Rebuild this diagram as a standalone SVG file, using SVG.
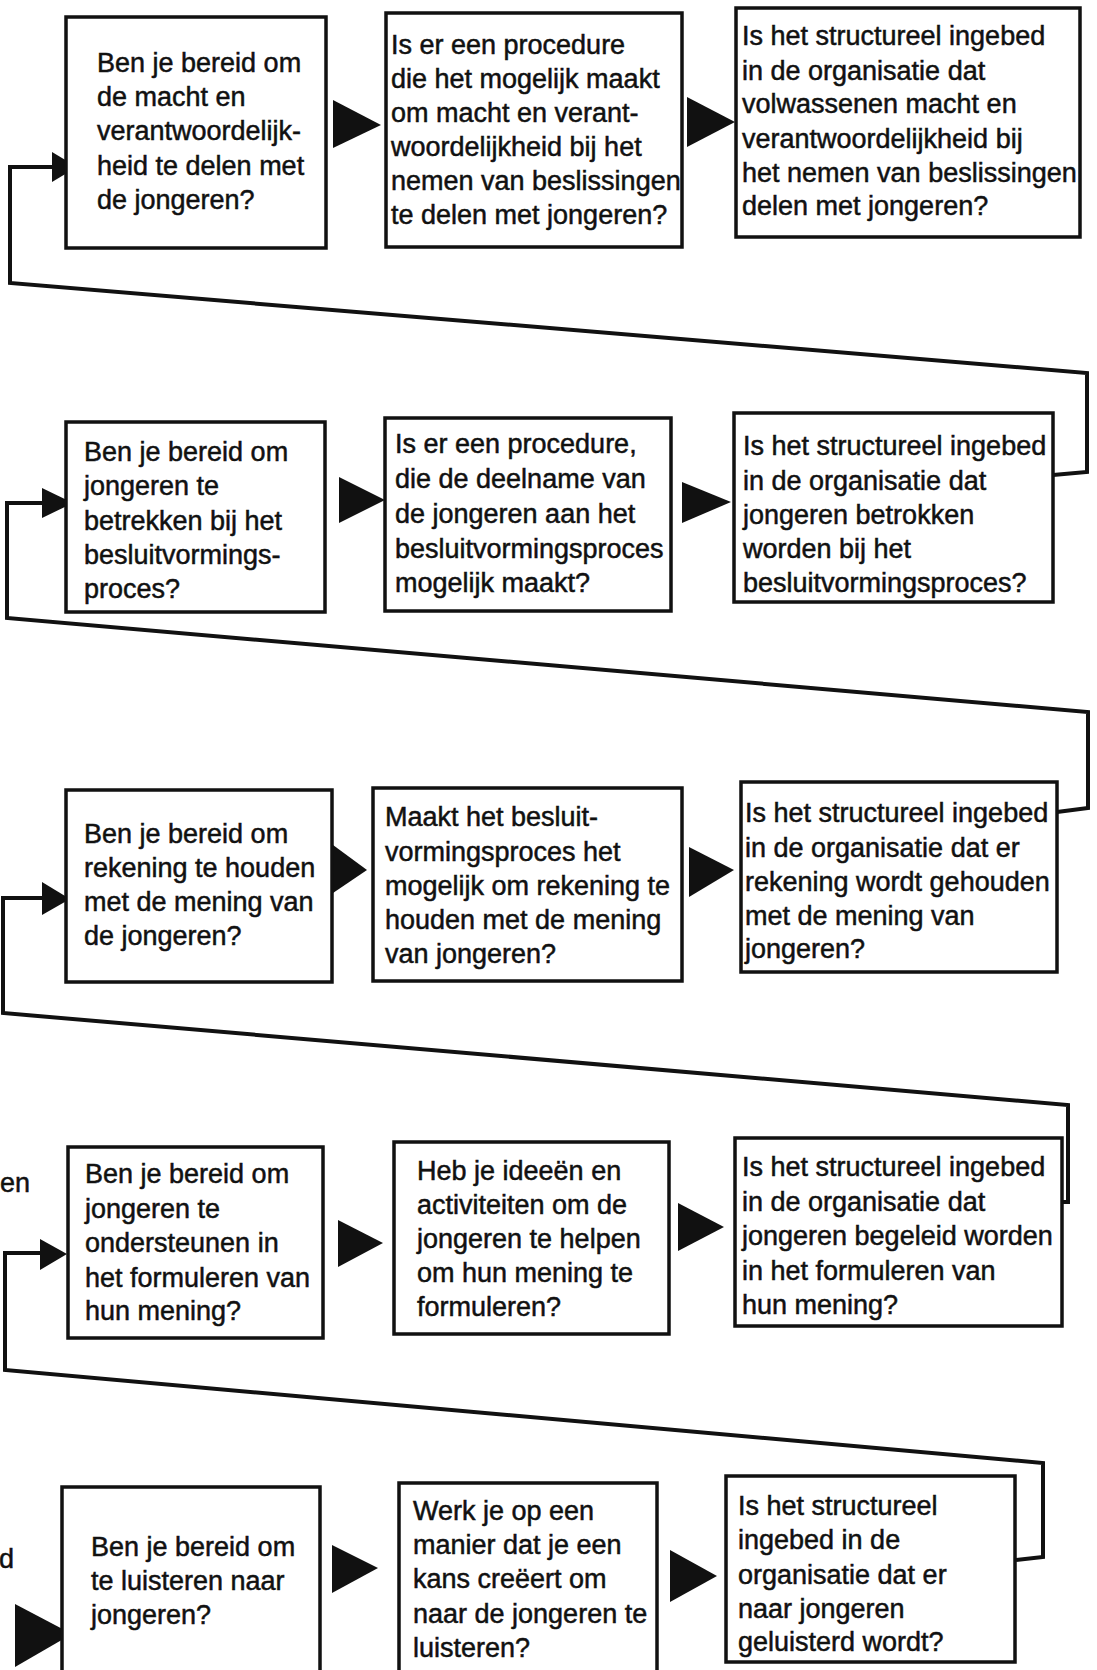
<svg xmlns="http://www.w3.org/2000/svg" width="1097" height="1670" viewBox="0 0 1097 1670">
<style>
.box{fill:#fff;stroke:#111;stroke-width:3.5}
.t{font-family:"Liberation Sans",Arial,sans-serif;font-size:27px;fill:#111;stroke:#111;stroke-width:0.5}
.head{fill:#111;stroke:none}
.conn{fill:none;stroke:#111;stroke-width:4;stroke-linejoin:miter}
</style>
<rect width="1097" height="1670" fill="#fff"/>
<g id="connectors">
<path class="conn" d="M1053,475 L1087,472 L1087,373 L10,283 L10,167 L58,167"/>
<polygon class="head" points="52,152 77,167 52,182"/>
<path class="conn" d="M1057,812 L1088,808 L1088,712 L7,618 L7,503 L46,503"/>
<polygon class="head" points="42,488 73,503 42,518"/>
<path class="conn" d="M1062,1202 L1068,1202 L1068,1105 L3,1013 L3,898 L46,898"/>
<polygon class="head" points="42,882 70,899 42,915"/>
<path class="conn" d="M1016,1560 L1043,1557 L1043,1463 L5,1370 L5,1253 L44,1253"/>
<polygon class="head" points="40,1239 67,1254 40,1270"/>
<polygon class="head" points="15,1604 72,1634 15,1667"/>
<polygon class="head" points="333,100 381,125 333,148"/>
<polygon class="head" points="687,97 735,122 687,147"/>
<polygon class="head" points="339,477 385,500 339,523"/>
<polygon class="head" points="682,482 731,502 682,523"/>
<polygon class="head" points="333,845 367,870 333,893"/>
<polygon class="head" points="689,847 734,870 689,897"/>
<polygon class="head" points="338,1220 383,1243 338,1267"/>
<polygon class="head" points="678,1203 724,1227 678,1251"/>
<polygon class="head" points="332,1545 378,1568 332,1593"/>
<polygon class="head" points="670,1550 717,1576 670,1602"/>
</g>
<g id="side-labels">
<text class="t" x="0" y="1192" font-size="29">en</text>
<text class="t" x="-1" y="1568" font-size="29">d</text>
</g>
<g id="A1"><rect class="box" x="66" y="17" width="260" height="231"/>
<text class="t"><tspan x="97" y="72">Ben je bereid om</tspan><tspan x="97" y="106">de macht en</tspan><tspan x="97" y="140">verantwoordelijk-</tspan><tspan x="97" y="175">heid te delen met</tspan><tspan x="97" y="209">de jongeren?</tspan></text></g>
<g id="A2"><rect class="box" x="386" y="13" width="296" height="234"/>
<text class="t"><tspan x="391" y="54">Is er een procedure</tspan><tspan x="391" y="88">die het mogelijk maakt</tspan><tspan x="391" y="122">om macht en verant-</tspan><tspan x="391" y="156">woordelijkheid bij het</tspan><tspan x="391" y="190">nemen van beslissingen</tspan><tspan x="391" y="224">te delen met jongeren?</tspan></text></g>
<g id="A3"><rect class="box" x="736" y="8" width="344" height="229"/>
<text class="t"><tspan x="742" y="45">Is het structureel ingebed</tspan><tspan x="742" y="80">in de organisatie dat</tspan><tspan x="742" y="113">volwassenen macht en</tspan><tspan x="742" y="148">verantwoordelijkheid bij</tspan><tspan x="742" y="182">het nemen van beslissingen</tspan><tspan x="742" y="215">delen met jongeren?</tspan></text></g>
<g id="B1"><rect class="box" x="66" y="422" width="259" height="190"/>
<text class="t"><tspan x="84" y="461">Ben je bereid om</tspan><tspan x="84" y="495">jongeren te</tspan><tspan x="84" y="530">betrekken bij het</tspan><tspan x="84" y="564">besluitvormings-</tspan><tspan x="84" y="598">proces?</tspan></text></g>
<g id="B2"><rect class="box" x="385" y="418" width="286" height="193"/>
<text class="t"><tspan x="395" y="453">Is er een procedure,</tspan><tspan x="395" y="488">die de deelname van</tspan><tspan x="395" y="523">de jongeren aan het</tspan><tspan x="395" y="558">besluitvormingsproces</tspan><tspan x="395" y="592">mogelijk maakt?</tspan></text></g>
<g id="B3"><rect class="box" x="734" y="413" width="319" height="189"/>
<text class="t"><tspan x="743" y="455">Is het structureel ingebed</tspan><tspan x="743" y="490">in de organisatie dat</tspan><tspan x="743" y="524">jongeren betrokken</tspan><tspan x="743" y="558">worden bij het</tspan><tspan x="743" y="592">besluitvormingsproces?</tspan></text></g>
<g id="C1"><rect class="box" x="66" y="790" width="266" height="192"/>
<text class="t"><tspan x="84" y="843">Ben je bereid om</tspan><tspan x="84" y="877">rekening te houden</tspan><tspan x="84" y="911">met de mening van</tspan><tspan x="84" y="945">de jongeren?</tspan></text></g>
<g id="C2"><rect class="box" x="373" y="788" width="309" height="193"/>
<text class="t"><tspan x="385" y="826">Maakt het besluit-</tspan><tspan x="385" y="861">vormingsproces het</tspan><tspan x="385" y="895">mogelijk om rekening te</tspan><tspan x="385" y="929">houden met de mening</tspan><tspan x="385" y="963">van jongeren?</tspan></text></g>
<g id="C3"><rect class="box" x="741" y="782" width="316" height="190"/>
<text class="t"><tspan x="745" y="822">Is het structureel ingebed</tspan><tspan x="745" y="857">in de organisatie dat er</tspan><tspan x="745" y="891">rekening wordt gehouden</tspan><tspan x="745" y="925">met de mening van</tspan><tspan x="745" y="958">jongeren?</tspan></text></g>
<g id="D1"><rect class="box" x="68" y="1147" width="255" height="191"/>
<text class="t"><tspan x="85" y="1183">Ben je bereid om</tspan><tspan x="85" y="1218">jongeren te</tspan><tspan x="85" y="1252">ondersteunen in</tspan><tspan x="85" y="1287">het formuleren van</tspan><tspan x="85" y="1320">hun mening?</tspan></text></g>
<g id="D2"><rect class="box" x="394" y="1142" width="275" height="192"/>
<text class="t"><tspan x="417" y="1180">Heb je ideeën en</tspan><tspan x="417" y="1214">activiteiten om de</tspan><tspan x="417" y="1248">jongeren te helpen</tspan><tspan x="417" y="1282">om hun mening te</tspan><tspan x="417" y="1316">formuleren?</tspan></text></g>
<g id="D3"><rect class="box" x="735" y="1138" width="327" height="188"/>
<text class="t"><tspan x="742" y="1176">Is het structureel ingebed</tspan><tspan x="742" y="1211">in de organisatie dat</tspan><tspan x="742" y="1245">jongeren begeleid worden</tspan><tspan x="742" y="1280">in het formuleren van</tspan><tspan x="742" y="1314">hun mening?</tspan></text></g>
<g id="E1"><rect class="box" x="62" y="1487" width="258" height="200"/>
<text class="t"><tspan x="91" y="1556">Ben je bereid om</tspan><tspan x="91" y="1590">te luisteren naar</tspan><tspan x="91" y="1624">jongeren?</tspan></text></g>
<g id="E2"><rect class="box" x="399" y="1483" width="258" height="205"/>
<text class="t"><tspan x="413" y="1520">Werk je op een</tspan><tspan x="413" y="1554">manier dat je een</tspan><tspan x="413" y="1588">kans creëert om</tspan><tspan x="413" y="1623">naar de jongeren te</tspan><tspan x="413" y="1657">luisteren?</tspan></text></g>
<g id="E3"><rect class="box" x="726" y="1476" width="289" height="186"/>
<text class="t"><tspan x="738" y="1515">Is het structureel</tspan><tspan x="738" y="1549">ingebed in de</tspan><tspan x="738" y="1584">organisatie dat er</tspan><tspan x="738" y="1618">naar jongeren</tspan><tspan x="738" y="1651">geluisterd wordt?</tspan></text></g>
</svg>
